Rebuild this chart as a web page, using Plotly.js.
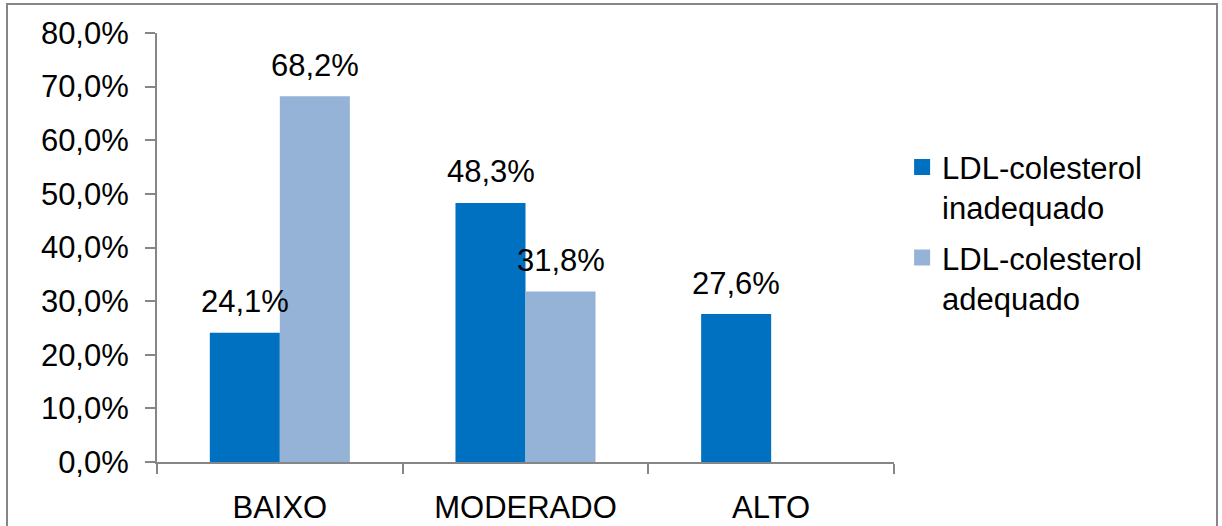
<!DOCTYPE html>
<html>
<head>
<meta charset="utf-8">
<script src="https://cdn.plot.ly/plotly-3.0.1.min.js"></script>
<style>
  html, body { margin: 0; padding: 0; background: #ffffff; }
  #chart { width: 1222px; height: 526px; }
</style>
</head>
<body>
<div id="chart"></div>
<script>
const categories = ["BAIXO", "MODERADO", "ALTO"];
const seriesNames = ["LDL-colesterol<br>inadequado", "LDL-colesterol<br>adequado"];
const inadequado = [24.1, 48.3, 27.6];
const adequado = [68.2, 31.8, null];
const yTicks = [0, 10, 20, 30, 40, 50, 60, 70, 80];

const colors = ["#0070C0", "#95B3D7"];
const FONT = "Liberation Sans, Arial, sans-serif";
const FS = 31;
const series = [inadequado, adequado];

const fmt = v => v.toFixed(1).replace('.', ',') + '%';

const traces = series.map((vals, i) => ({
  type: 'bar',
  x: categories,
  y: vals,
  name: seriesNames[i],
  marker: { color: colors[i] },
  showlegend: false,
  hoverinfo: 'none'
}));

// legend-only entries with larger square symbols
series.forEach((vals, i) => {
  traces.push({
    type: 'scatter',
    mode: 'markers',
    x: [null],
    y: [null],
    name: seriesNames[i],
    legendgroup: 'g' + i,
    marker: { symbol: 'square', size: 16, color: colors[i] },
    showlegend: true,
    hoverinfo: 'none'
  });
});

const annotations = [];
series.forEach((vals, i) => {
  vals.forEach((v, j) => {
    if (v === null || v === undefined) return;
    annotations.push({
      x: categories[j],
      y: v,
      xref: 'x',
      yref: 'y',
      text: fmt(v),
      showarrow: false,
      xshift: i === 0 ? -35 : 35,
      yshift: 31,
      yanchor: 'middle',
      font: { family: FONT, size: FS, color: '#000000' }
    });
  });
});

const layout = {
  width: 1222,
  height: 526,
  margin: { l: 157, r: 328, t: 33, b: 64, pad: 0 },
  paper_bgcolor: '#ffffff',
  plot_bgcolor: '#ffffff',
  font: { family: FONT, size: FS, color: '#000000' },
  separators: ',.',
  barmode: 'group',
  bargap: 0.43,
  bargroupgap: 0,
  showlegend: true,
  legend: {
    x: 1.011,
    xanchor: 'left',
    y: 0.75,
    yanchor: 'top',
    valign: 'top',
    font: { family: FONT, size: FS, color: '#000000' },
    itemsizing: 'trace',
    tracegroupgap: 7,
    bgcolor: 'rgba(0,0,0,0)'
  },
  xaxis: {
    type: 'category',
    showgrid: false,
    zeroline: false,
    showline: true,
    linecolor: '#868686',
    linewidth: 2,
    ticks: 'outside',
    tickson: 'boundaries',
    ticklen: 10,
    tickwidth: 2,
    tickcolor: '#868686',
    ticklabelstandoff: 17,
    tickfont: { family: FONT, size: FS, color: '#000000' },
    fixedrange: true
  },
  yaxis: {
    range: [0, 80],
    tickmode: 'array',
    tickvals: yTicks,
    ticktext: yTicks.map(fmt),
    showgrid: false,
    zeroline: false,
    showline: true,
    linecolor: '#868686',
    linewidth: 2,
    ticks: 'outside',
    ticklen: 10,
    tickwidth: 2,
    tickcolor: '#868686',
    ticklabelstandoff: 10,
    tickfont: { family: FONT, size: FS, color: '#000000' },
    fixedrange: true
  },
  annotations: annotations,
  shapes: [{
    type: 'rect',
    xref: 'paper',
    yref: 'paper',
    x0: (7 - 157) / 737,
    x1: (1217 - 157) / 737,
    y0: (462 - 540) / 429,
    y1: (462 - 4) / 429,
    line: { color: '#868686', width: 2 },
    fillcolor: 'rgba(0,0,0,0)',
    layer: 'below'
  }]
};

Plotly.newPlot('chart', traces, layout, { displayModeBar: false, staticPlot: true });
</script>
</body>
</html>
